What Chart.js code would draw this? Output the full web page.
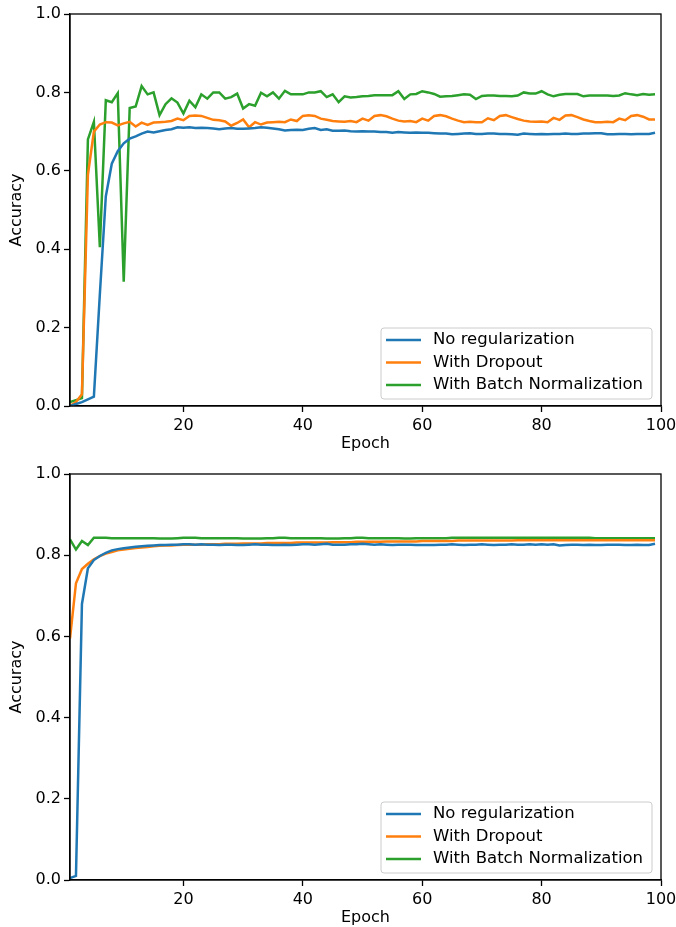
<!DOCTYPE html>
<html>
<head>
<meta charset="utf-8">
<script src="https://cdn.jsdelivr.net/npm/chart.js@4.4.0/dist/chart.umd.min.js"></script>
<style>
  html, body { margin: 0; padding: 0; background: #fff; }
  #wrap { position: relative; width: 676px; height: 927px; }
  canvas { position: absolute; left: 0; }
</style>
</head>
<body>
<div id="wrap">
  <canvas id="chart-top" width="676" height="460" style="top:0"></canvas>
  <canvas id="chart-bottom" width="676" height="467" style="top:460px"></canvas>
</div>
<script>
/* ---------- data ---------- */
const epochs = [1,2,3,4,5,6,7,8,9,10,11,12,13,14,15,16,17,18,19,20,
  21,22,23,24,25,26,27,28,29,30,31,32,33,34,35,36,37,38,39,40,
  41,42,43,44,45,46,47,48,49,50,51,52,53,54,55,56,57,58,59,60,
  61,62,63,64,65,66,67,68,69,70,71,72,73,74,75,76,77,78,79,80,
  81,82,83,84,85,86,87,88,89,90,91,92,93,94,95,96,97,98,99];

const seriesNames = ['No regularization', 'With Dropout', 'With Batch Normalization'];
const seriesColors = ['#1f77b4', '#ff7f0e', '#2ca02c'];
const xTicks = [20, 40, 60, 80, 100];
const yTicks = [0, 0.2, 0.4, 0.6, 0.8, 1.0];

// upper panel
const topNoReg = [0.000,0.005,0.010,0.017,0.024,0.285,0.535,0.618,0.650,0.670,
  0.682,0.688,0.695,0.700,0.698,0.701,0.704,0.706,0.711,0.710,
  0.711,0.709,0.710,0.709,0.708,0.706,0.708,0.709,0.707,0.707,
  0.708,0.709,0.711,0.710,0.708,0.706,0.703,0.704,0.705,0.704,
  0.707,0.709,0.704,0.706,0.702,0.702,0.703,0.701,0.700,0.701,
  0.700,0.700,0.699,0.699,0.697,0.699,0.698,0.697,0.698,0.697,
  0.697,0.696,0.695,0.695,0.693,0.694,0.695,0.696,0.694,0.694,
  0.695,0.695,0.694,0.694,0.693,0.692,0.695,0.694,0.693,0.694,
  0.693,0.694,0.694,0.695,0.694,0.694,0.695,0.695,0.696,0.696,
  0.693,0.693,0.694,0.694,0.693,0.694,0.694,0.694,0.697];
const topDropout = [0.000,0.010,0.030,0.590,0.700,0.718,0.724,0.723,0.716,0.721,
  0.725,0.713,0.723,0.717,0.723,0.724,0.725,0.727,0.733,0.729,
  0.740,0.741,0.740,0.735,0.730,0.729,0.726,0.715,0.722,0.731,
  0.711,0.724,0.718,0.723,0.724,0.725,0.724,0.731,0.727,0.740,
  0.742,0.740,0.733,0.730,0.727,0.726,0.725,0.727,0.724,0.733,
  0.728,0.740,0.742,0.739,0.733,0.728,0.726,0.727,0.724,0.733,
  0.728,0.740,0.742,0.739,0.733,0.728,0.724,0.725,0.724,0.724,
  0.734,0.729,0.740,0.742,0.737,0.732,0.728,0.726,0.725,0.726,
  0.724,0.735,0.730,0.741,0.742,0.737,0.731,0.727,0.724,0.724,
  0.725,0.724,0.733,0.729,0.740,0.742,0.738,0.731,0.731];
const topBatchNorm = [0.010,0.015,0.020,0.680,0.725,0.405,0.780,0.775,0.798,0.317,
  0.760,0.764,0.816,0.795,0.800,0.742,0.770,0.785,0.774,0.746,
  0.779,0.762,0.795,0.784,0.800,0.800,0.784,0.788,0.797,0.759,
  0.770,0.766,0.799,0.790,0.800,0.784,0.804,0.795,0.795,0.795,
  0.800,0.800,0.803,0.788,0.795,0.775,0.790,0.787,0.788,0.790,
  0.791,0.793,0.793,0.793,0.793,0.803,0.783,0.795,0.796,0.803,
  0.800,0.796,0.789,0.790,0.791,0.793,0.795,0.794,0.783,0.791,
  0.792,0.792,0.791,0.791,0.790,0.792,0.800,0.797,0.797,0.803,
  0.795,0.790,0.794,0.796,0.796,0.796,0.790,0.792,0.792,0.792,
  0.792,0.791,0.792,0.798,0.795,0.793,0.796,0.794,0.795];

// lower panel
const bottomNoReg = [0.005,0.010,0.680,0.768,0.788,0.798,0.806,0.812,0.815,0.817,
  0.819,0.821,0.822,0.823,0.824,0.825,0.825,0.826,0.826,0.827,
  0.827,0.826,0.827,0.826,0.826,0.825,0.826,0.826,0.825,0.825,
  0.826,0.827,0.826,0.826,0.825,0.825,0.826,0.825,0.826,0.827,
  0.827,0.826,0.827,0.828,0.826,0.826,0.826,0.827,0.827,0.828,
  0.827,0.826,0.827,0.826,0.825,0.826,0.826,0.826,0.825,0.825,
  0.825,0.825,0.826,0.826,0.827,0.826,0.825,0.826,0.826,0.827,
  0.826,0.825,0.826,0.826,0.827,0.826,0.826,0.827,0.826,0.827,
  0.826,0.827,0.824,0.825,0.826,0.826,0.825,0.826,0.825,0.825,
  0.826,0.826,0.826,0.825,0.825,0.826,0.825,0.825,0.828];
const bottomDropout = [0.595,0.731,0.766,0.779,0.790,0.798,0.804,0.808,0.812,0.814,
  0.816,0.818,0.819,0.820,0.822,0.823,0.824,0.824,0.825,0.826,
  0.826,0.826,0.826,0.827,0.827,0.827,0.828,0.828,0.828,0.829,
  0.829,0.829,0.829,0.830,0.830,0.830,0.830,0.830,0.831,0.831,
  0.831,0.831,0.831,0.831,0.832,0.832,0.832,0.832,0.833,0.833,
  0.833,0.833,0.833,0.834,0.834,0.834,0.834,0.834,0.834,0.835,
  0.835,0.835,0.835,0.835,0.835,0.836,0.836,0.836,0.836,0.836,
  0.836,0.836,0.836,0.836,0.836,0.837,0.837,0.837,0.837,0.837,
  0.837,0.837,0.837,0.837,0.837,0.837,0.837,0.837,0.837,0.837,
  0.837,0.837,0.837,0.837,0.837,0.837,0.837,0.837,0.837];
const bottomBatchNorm = [0.839,0.814,0.835,0.825,0.843,0.843,0.843,0.842,0.842,0.842,
  0.842,0.842,0.842,0.842,0.842,0.841,0.841,0.841,0.842,0.843,
  0.843,0.843,0.842,0.842,0.842,0.842,0.842,0.842,0.842,0.841,
  0.841,0.841,0.841,0.842,0.842,0.843,0.843,0.842,0.842,0.842,
  0.842,0.842,0.842,0.841,0.841,0.841,0.842,0.842,0.843,0.843,
  0.842,0.842,0.842,0.842,0.842,0.842,0.841,0.841,0.842,0.842,
  0.842,0.842,0.842,0.842,0.843,0.843,0.843,0.843,0.843,0.843,
  0.843,0.843,0.843,0.843,0.843,0.843,0.843,0.843,0.843,0.843,
  0.843,0.843,0.843,0.843,0.843,0.843,0.843,0.843,0.842,0.842,
  0.842,0.842,0.842,0.842,0.842,0.842,0.842,0.842,0.842];

/* ---------- plugins ---------- */
Chart.defaults.font.family = '"DejaVu Sans", sans-serif';
Chart.defaults.font.size = 16;
Chart.defaults.color = '#000';

// matplotlib style box around the axes
const frame = {
  id: 'frame',
  afterDraw(chart) {
    const { ctx, chartArea: a } = chart;
    ctx.save();
    ctx.strokeStyle = '#000';
    ctx.lineWidth = 1.3;
    ctx.strokeRect(a.left, a.top, a.right - a.left, a.bottom - a.top);
    ctx.restore();
  }
};

// legend box in lower right corner of the plot
const boxLegend = {
  id: 'boxLegend',
  afterDatasetsDraw(chart) {
    const { ctx, chartArea: a } = chart;
    const sets = chart.data.datasets;
    const right = a.right - 9, bottom = a.bottom - 7;
    const left = right - 271, top = bottom - 71;
    ctx.save();
    ctx.beginPath();
    ctx.roundRect(left, top, right - left, bottom - top, 3);
    ctx.fillStyle = 'rgba(255,255,255,0.8)';
    ctx.fill();
    ctx.strokeStyle = '#cccccc';
    ctx.lineWidth = 1;
    ctx.stroke();
    ctx.font = '16.5px "DejaVu Sans", sans-serif';
    ctx.textBaseline = 'middle';
    sets.forEach((ds, i) => {
      const y = top + 12 + i * 22.5;
      ctx.strokeStyle = ds.borderColor;
      ctx.lineWidth = 2.5;
      ctx.beginPath();
      ctx.moveTo(left + 5, y);
      ctx.lineTo(left + 40, y);
      ctx.stroke();
      ctx.fillStyle = '#000';
      ctx.fillText(ds.label, left + 52, y);
    });
    ctx.restore();
  }
};

function makeChart(id, series, xAxisHeight, titlePad) {
  const ctx = document.getElementById(id);
  return new Chart(ctx, {
    type: 'line',
    data: {
      datasets: series.map((vals, i) => ({
        label: seriesNames[i],
        data: epochs.map((e, j) => ({ x: e, y: vals[j] })),
        borderColor: seriesColors[i],
        backgroundColor: seriesColors[i],
        borderWidth: 2.5,
        pointRadius: 0,
        tension: 0,
      }))
    },
    options: {
      responsive: false,
      animation: false,
      layout: { padding: { top: 14, right: 0, left: 0, bottom: 0 } },
      plugins: { legend: { display: false }, tooltip: { enabled: false } },
      scales: {
        x: {
          type: 'linear',
          min: 1, max: 100,
          afterBuildTicks: s => { s.ticks = xTicks.map(v => ({ value: v })); },
          afterFit: s => { s.height = xAxisHeight; s.paddingRight = 15; },
          ticks: { padding: 4, maxRotation: 0, callback: v => String(v) },
          grid: { drawOnChartArea: false, drawTicks: true, tickLength: 6, tickColor: '#000', tickWidth: 1.3 },
          border: { display: true, color: '#000', width: 1.3 },
          title: { display: true, text: 'Epoch', padding: { top: 0, bottom: titlePad } },
        },
        y: {
          min: 0, max: 1,
          afterBuildTicks: s => { s.ticks = yTicks.map(v => ({ value: v })); },
          afterFit: s => { s.width = 70; },
          ticks: { padding: 3, callback: v => v.toFixed(1) },
          grid: { drawOnChartArea: false, drawTicks: true, tickLength: 6, tickColor: '#000', tickWidth: 1.3 },
          border: { display: true, color: '#000', width: 1.3 },
          title: { display: true, text: 'Accuracy', padding: { top: 7, bottom: 0 } },
        }
      }
    },
    plugins: [frame, boxLegend]
  });
}

makeChart('chart-top', [topNoReg, topDropout, topBatchNorm], 54, 7);
makeChart('chart-bottom', [bottomNoReg, bottomDropout, bottomBatchNorm], 47, 0);
</script>
</body>
</html>
